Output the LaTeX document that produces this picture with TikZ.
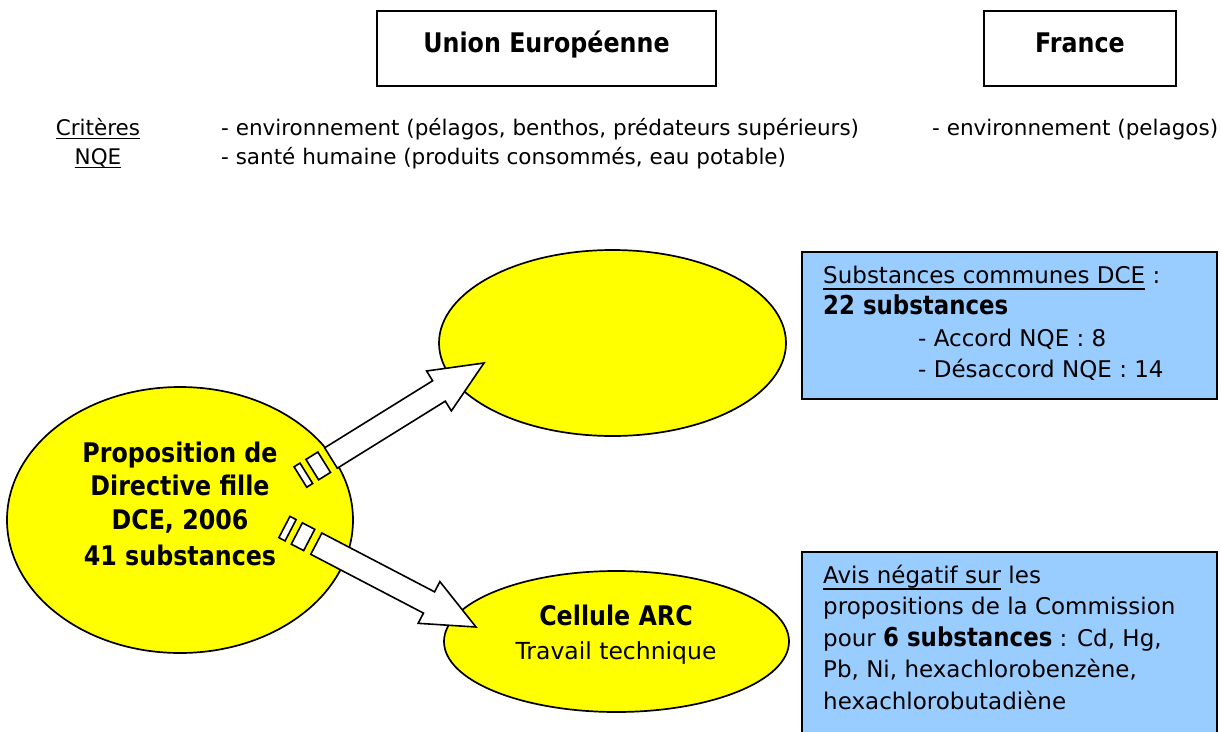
\documentclass[tikz,border=0pt]{standalone}
\usepackage{fontspec}
\setmainfont{DejaVu Sans}[BoldFeatures={FakeStretch=0.88}]
\usetikzlibrary{shapes.geometric,calc}
\definecolor{ylw}{RGB}{255,255,0}
\definecolor{lblue}{RGB}{153,204,255}
% underline: #1 = offset below baseline (pt), #2 = text
\newcommand\undl[2]{\setbox0\hbox{#2}\rlap{\vrule height -#1pt depth \dimexpr#1pt+1.5pt\relax width \wd0}\box0\relax}
% bold inside the blue boxes
\newcommand\boxbf[1]{{\fontsize{26}{31}\selectfont\bfseries #1}}
% striped block arrow from tail #1 to tip #2
\newcommand\stripedarrow[2]{%
  \coordinate (#1-ss) at ($(#1)!36pt!(#2)$);
  \coordinate (#1-hb) at ($(#2)!53pt!(#1)$);
  \coordinate (#1-b1) at ($(#1)!14pt!(#2)$);
  \coordinate (#1-b2) at ($(#1)!28pt!(#2)$);
  \coordinate (#1-s2) at ($(#1)!7pt!(#2)$);
  \draw[blockarr] ($(#1-ss)!12pt!90:(#2)$) -- ($(#1-hb)!12pt!270:(#1)$) -- ($(#1-hb)!23.5pt!270:(#1)$) -- (#2) -- ($(#1-hb)!23.5pt!90:(#1)$) -- ($(#1-hb)!12pt!90:(#1)$) -- ($(#1-ss)!12pt!270:(#2)$) -- cycle;
  \draw[blockarr] ($(#1-b1)!12pt!90:(#2)$) -- ($(#1-b2)!12pt!90:(#2)$) -- ($(#1-b2)!12pt!270:(#2)$) -- ($(#1-b1)!12pt!270:(#2)$) -- cycle;
  \draw[blockarr] ($(#1)!12pt!90:(#2)$) -- ($(#1-s2)!12pt!90:(#2)$) -- ($(#1-s2)!12pt!270:(#2)$) -- ($(#1)!12pt!270:(#2)$) -- cycle;
}
\tikzset{
  ell/.style={ellipse, draw, fill=ylw, line width=1.7pt, inner sep=0pt},
  hdrbox/.style={draw, line width=1.8pt, inner sep=0pt},
  bluebox/.style={draw, fill=lblue, line width=1.7pt, inner sep=0pt},
  blockarr/.style={draw, fill=white, line width=1.6pt, line join=miter},
  crit/.style={font=\fontsize{21.5}{26}\selectfont, inner sep=0pt},
  boxtxt/.style={font=\fontsize{23}{31}\selectfont, inner sep=0pt, anchor=base west},
  boldtxt/.style={font=\fontsize{27}{34}\selectfont\bfseries, inner sep=0pt, anchor=base},
  plaintxt/.style={font=\fontsize{23.5}{31}\selectfont, inner sep=0pt, anchor=base},
}
\begin{document}
\begin{tikzpicture}[x=1pt,y=-1pt]
\useasboundingbox[fill=white] (0,0) rectangle (1221,731);

% header boxes
\node[hdrbox, minimum width=339pt, minimum height=75pt] (UEbox) at (546.5,48.5) {};
\node[hdrbox, minimum width=192pt, minimum height=75pt] (FRbox) at (1080,48.5) {};
\node[boldtxt] (UEt) at (546.5,52) {Union Européenne};
\node[boldtxt] (FRt) at (1080,52) {France};

% criteria
\node[crit, anchor=base] (crit1) at (98,135) {\undl{2.5}{Critères}};
\node[crit, anchor=base] (crit2) at (98,164) {\undl{2.5}{NQE}};
\node[crit, anchor=base west] (ue1) at (221,135) {- environnement (pélagos, benthos, prédateurs supérieurs)};
\node[crit, anchor=base west] (ue2) at (221,164) {- santé humaine (produits consommés, eau potable)};
\node[crit, anchor=base west] (fr1) at (932,135) {- environnement (pelagos)};

% ellipses
\node[ell, minimum width=346pt, minimum height=266pt] (prop) at (180,520) {};
\node[ell, minimum width=347pt, minimum height=186pt] (up) at (612.5,343) {};
\node[ell, minimum width=345pt, minimum height=141pt] (arc) at (616.5,641.5) {};

\node[boldtxt] (p1) at (180,462) {Proposition de};
\node[boldtxt] (p2) at (180,495) {Directive fille};
\node[boldtxt] (p3) at (180,529) {DCE, 2006};
\node[boldtxt] (p4) at (180,565) {41 substances};

\node[boldtxt] (arc1) at (616,625) {Cellule ARC};
\node[plaintxt] (arc2) at (616,659) {Travail technique};

% arrows
\coordinate (a1t) at (300.4,477);
\coordinate (a1h) at (484,363);
\coordinate (a2t) at (284.4,527);
\coordinate (a2h) at (476,627);
\stripedarrow{a1t}{a1h}
\stripedarrow{a2t}{a2h}

% blue boxes
\node[bluebox, minimum width=415pt, minimum height=147pt] (box1) at (1009.5,325.5) {};
\node[boxtxt] (b11) at (823,283) {\undl{5}{Substances communes DCE} :};
\node[boxtxt] (b12) at (823,314) {\boxbf{22 substances}};
\node[boxtxt] (b13) at (918,346) {- Accord NQE : 8};
\node[boxtxt] (b14) at (918,377) {- Désaccord NQE : 14};

\node[bluebox, minimum width=415pt, minimum height=185pt] (box2) at (1009.5,644.5) {};
\node[boxtxt] (b21) at (823,583) {\undl{5}{Avis négatif sur} les};
\node[boxtxt] (b22) at (823,614.5) {propositions de la Commission};
\node[boxtxt] (b23) at (823,646) {pour \boxbf{6 substances} : Cd, Hg,};
\node[boxtxt] (b24) at (823,677.5) {Pb, Ni, hexachlorobenzène,};
\node[boxtxt] (b25) at (823,709) {hexachlorobutadiène};
\end{tikzpicture}
\end{document}
